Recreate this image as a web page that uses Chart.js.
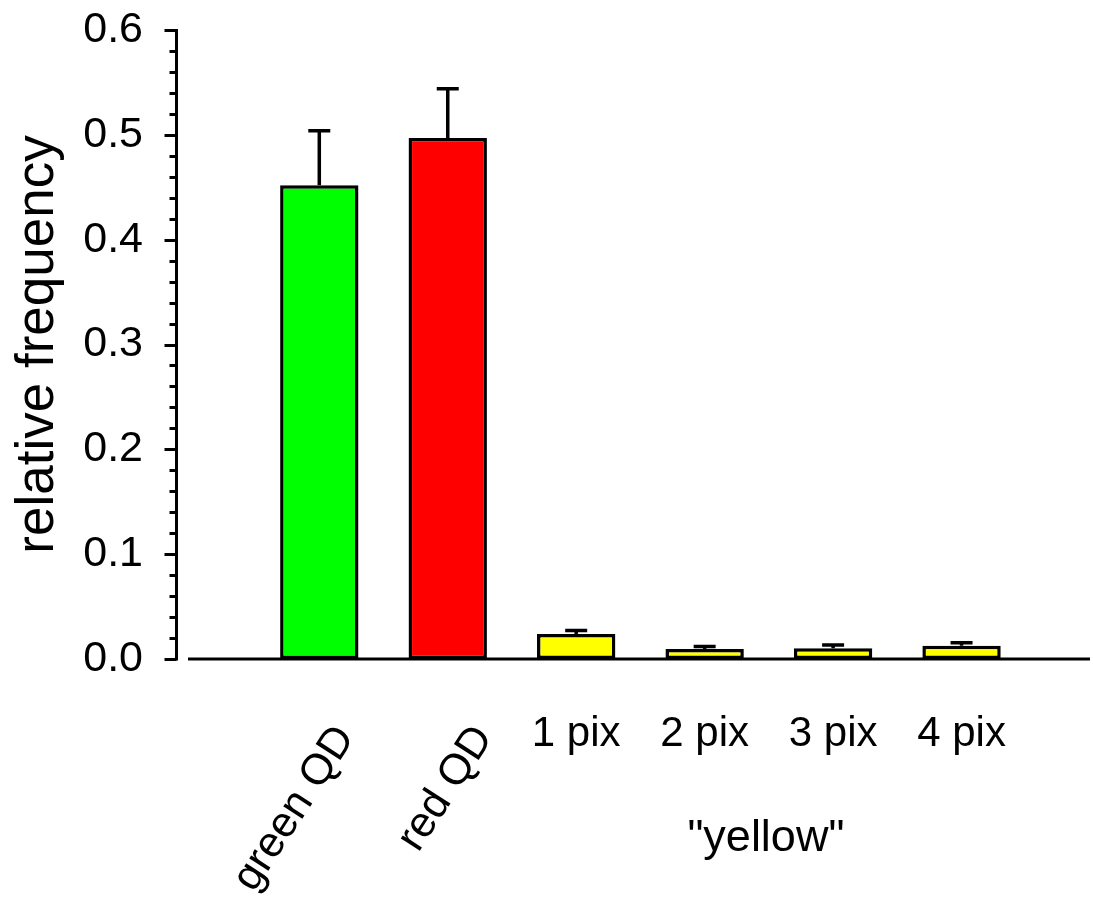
<!DOCTYPE html>
<html>
<head>
<meta charset="utf-8">
<script src="https://cdn.jsdelivr.net/npm/chart.js@4"></script>
<style>
  body { margin: 0; background: #fff; }
  #wrap { width: 1093px; height: 899px; }
</style>
</head>
<body>
<div id="wrap"><canvas id="chart" width="1093" height="899"></canvas></div>
<script>
// =========================
// data
// =========================
const categories = ["green QD", "red QD", "1 pix", "2 pix", "3 pix", "4 pix"];
const xPositions = [1, 2, 3, 4, 5, 6];
const meanValues = [0.452, 0.497, 0.0238, 0.0095, 0.0102, 0.0127];
const errorValues = [0.052, 0.047, 0.0033, 0.0025, 0.0032, 0.0029];
const barColors = ["#00ff00", "#ff0000", "#ffff00", "#ffff00", "#ffff00", "#ffff00"];
const groupLabel = '"yellow"';          // label under the 1-4 pix bars
const groupMembers = [2, 3, 4, 5];
const yTitle = "relative frequency";

const FONT = 'Arial, "Liberation Sans", sans-serif';

// =========================
// axes, ticks, error bars, x labels
// =========================
const decorations = {
  id: "decorations",
  afterDatasetsDraw(chart) {
    const ctx = chart.ctx;
    const area = chart.chartArea;
    const x = chart.scales.x;
    const y = chart.scales.y;
    const meta = chart.getDatasetMeta(0);

    ctx.save();
    ctx.strokeStyle = "#000";
    ctx.lineCap = "butt";

    // error bars (upper only)
    ctx.lineWidth = 3.5;
    meta.data.forEach((bar, i) => {
      const yTop = y.getPixelForValue(meanValues[i] + errorValues[i]);
      const yBar = y.getPixelForValue(meanValues[i]);
      ctx.beginPath();
      ctx.moveTo(bar.x, yBar);
      ctx.lineTo(bar.x, yTop);
      ctx.moveTo(bar.x - 11, yTop);
      ctx.lineTo(bar.x + 11, yTop);
      ctx.stroke();
    });

    // y axis line
    const axisX = area.left - 1.5;
    ctx.lineWidth = 3;
    ctx.beginPath();
    ctx.moveTo(axisX, y.getPixelForValue(0.6) - 1);
    ctx.lineTo(axisX, y.getPixelForValue(0) + 1.5);
    ctx.stroke();

    // major + minor ticks
    ctx.lineWidth = 3;
    for (let k = 0; k <= 30; k++) {
      const py = Math.round(y.getPixelForValue(k * 0.02)) + 0.5;
      const len = k % 5 === 0 ? 12 : 7;
      ctx.beginPath();
      ctx.moveTo(axisX - len, py);
      ctx.lineTo(axisX, py);
      ctx.stroke();
    }

    // x axis line (starts a little right of the y axis)
    const y0 = y.getPixelForValue(0);
    ctx.lineWidth = 3;
    ctx.beginPath();
    ctx.moveTo(area.left + 10, y0);
    ctx.lineTo(area.right, y0);
    ctx.stroke();

    // category labels
    ctx.fillStyle = "#000";
    ctx.textBaseline = "alphabetic";
    const rotOffsets = [36, 46];
    categories.forEach((lab, i) => {
      const px = x.getPixelForValue(xPositions[i]);
      if (i < 2) {
        ctx.save();
        ctx.font = "43px " + FONT;
        ctx.translate(px + rotOffsets[i], 737);
        ctx.rotate(-57 * Math.PI / 180);
        ctx.textAlign = "right";
        ctx.fillText(lab, 0, 0);
        ctx.restore();
      } else {
        ctx.font = "42px " + FONT;
        ctx.textAlign = "center";
        ctx.fillText(lab, px, 746);
      }
    });

    // group label
    const gx = groupMembers.reduce((s, i) => s + x.getPixelForValue(xPositions[i]), 0) / groupMembers.length;
    ctx.font = "45px " + FONT;
    ctx.textAlign = "center";
    ctx.fillText(groupLabel, gx - 3, 851);

    ctx.restore();
  },
};

new Chart(document.getElementById("chart"), {
  type: "bar",
  data: {
    datasets: [
      {
        data: xPositions.map((v, i) => ({ x: v, y: meanValues[i] })),
        backgroundColor: barColors,
        borderColor: "#000",
        borderWidth: 3.5,
        borderSkipped: false,
        barPercentage: 0.61,
        categoryPercentage: 1.0,
      },
    ],
  },
  options: {
    responsive: false,
    animation: false,
    devicePixelRatio: 1,
    layout: { padding: { top: 30, right: 3, left: 0, bottom: 0 } },
    plugins: { legend: { display: false }, tooltip: { enabled: false } },
    scales: {
      x: {
        type: "linear",
        min: -0.1,
        max: 7.0,
        offset: false,
        grid: { display: false, drawTicks: false },
        border: { display: false },
        ticks: { display: false },
        afterFit(scale) { scale.height = 240; },
      },
      y: {
        min: 0,
        max: 0.6,
        grid: { display: false, drawTicks: false },
        border: { display: false },
        ticks: {
          stepSize: 0.1,
          padding: 35,
          color: "#000",
          font: { size: 43, family: FONT },
          callback: (v) => v.toFixed(1),
        },
        title: {
          display: true,
          text: yTitle,
          color: "#000",
          font: { size: 53, family: FONT },
          padding: { top: 7, bottom: 0 },
        },
        afterFit(scale) {
          scale.width = 178;
          scale.paddingTop = 0;
          scale.paddingBottom = 0;
        },
      },
    },
  },
  plugins: [decorations],
});
</script>
</body>
</html>
